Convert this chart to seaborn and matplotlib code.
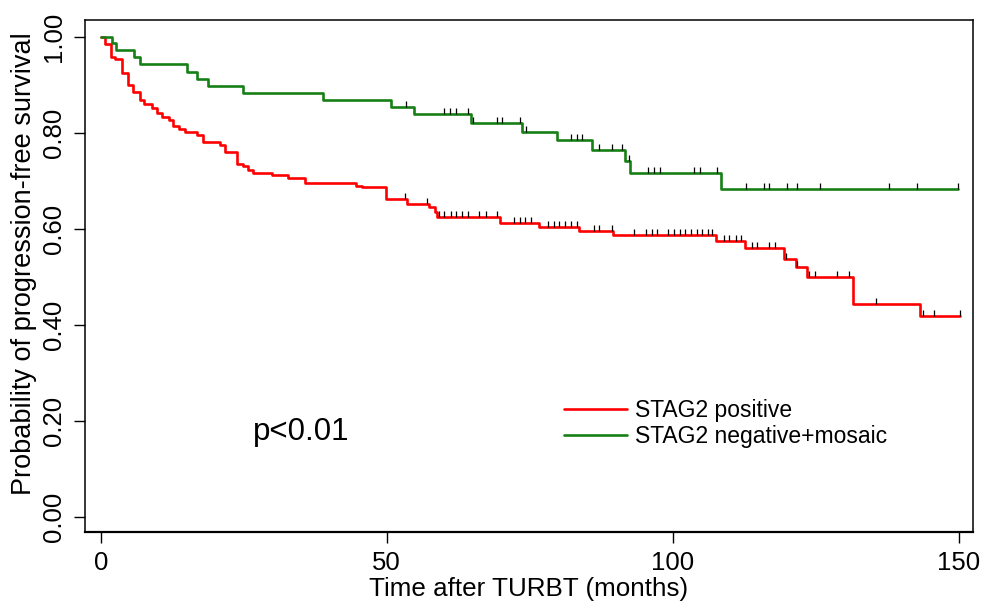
import numpy as np
import pandas as pd
import matplotlib
matplotlib.use('Agg')
import matplotlib.pyplot as plt
import seaborn as sns

# Kaplan-Meier steps (months, survival level after each step)
red_times = [0, 0.75, 1.75, 2.5, 3.8, 4.8, 5.6, 6.9, 7.6, 8.9, 9.8, 10.7, 12.0, 12.7, 13.7,
             14.7, 16.8, 17.8, 20.9, 21.7, 23.8, 24.9, 25.8, 26.7, 29.9, 32.8, 35.8, 44.7, 45.6,
             49.8, 53.6, 57.4, 58.4, 58.8, 69.8, 76.7, 83.7, 89.6, 107.5, 112.6, 119.4, 121.5,
             123.5, 131.5, 143.2]
red_surv = [1.0, 0.985, 0.958, 0.953, 0.925, 0.900, 0.886, 0.868, 0.861, 0.851, 0.842, 0.834,
            0.827, 0.814, 0.809, 0.802, 0.795, 0.782, 0.775, 0.761, 0.735, 0.732, 0.723, 0.716,
            0.713, 0.707, 0.695, 0.690, 0.687, 0.662, 0.653, 0.646, 0.636, 0.625, 0.612, 0.605,
            0.596, 0.587, 0.574, 0.560, 0.538, 0.521, 0.500, 0.444, 0.418]
red_end = 150.3
red_censor = [53.2, 57.1, 59.1, 60.1, 61.2, 62.2, 63.2, 64.2, 66.2, 67.3, 69.2, 72.3, 73.3,
              74.2, 75.2, 78.2, 79.2, 80.1, 81.1, 82.2, 83.2, 86.2, 87.1, 89.3, 93.2, 95.3,
              96.3, 97.3, 99.2, 100.2, 101.2, 102.1, 103.2, 104.2, 105.1, 106.1, 106.9, 108.9,
              109.9, 111.0, 111.9, 113.8, 114.8, 116.9, 117.8, 119.8, 121.8, 123.8, 124.8,
              128.8, 130.8, 135.5, 143.7, 145.7, 150.3]

green_times = [0, 1.9, 2.7, 5.8, 6.8, 15.0, 16.8, 18.8, 24.9, 38.8, 50.8, 54.7, 64.8, 73.7,
               79.8, 85.9, 91.6, 92.6, 108.5]
green_surv = [1.0, 0.988, 0.972, 0.958, 0.943, 0.927, 0.912, 0.898, 0.883, 0.868, 0.853,
              0.839, 0.821, 0.802, 0.785, 0.764, 0.741, 0.716, 0.684]
green_end = 149.8
green_censor = [53.3, 60.1, 61.1, 62.2, 64.2, 65.1, 69.2, 70.2, 73.3, 74.4, 82.2, 83.2, 84.2,
                87.2, 89.3, 91.2, 92.3, 95.7, 96.7, 97.7, 103.8, 104.7, 107.7, 112.9, 115.9,
                116.9, 119.9, 121.8, 125.8, 137.8, 142.7, 149.8]

groups = ['STAG2 positive', 'STAG2 negative+mosaic']
colors = ['#ff0000', '#168016']
x_ticks = [0, 50, 100, 150]
y_ticks = [0.0, 0.2, 0.4, 0.6, 0.8, 1.0]

sns.set_style('white')
plt.rcParams['font.family'] = ['Liberation Sans', 'DejaVu Sans']

fig = plt.figure(figsize=(9.85, 6.08), dpi=100)
ax = fig.add_axes([0.0863, 0.125, 0.9015, 0.842])

# censor tick: short vertical stroke above the curve
tick_marker = [(0, 0), (0, 1)]

series = [(red_times, red_surv, red_end, red_censor),
          (green_times, green_surv, green_end, green_censor)]
for (t, s, end, cens), name, col in zip(series, groups, colors):
    df = pd.DataFrame({'time': t + [end], 'surv': s + [s[-1]]})
    sns.lineplot(data=df, x='time', y='surv', drawstyle='steps-post', estimator=None,
                 sort=False, color=col, linewidth=1.9, label=name, ax=ax, zorder=2)
    idx = np.searchsorted(np.array(t), np.array(cens), side='right') - 1
    ax.plot(cens, np.array(s)[idx], linestyle='none', marker=tick_marker,
            markersize=9, markeredgecolor='black', markeredgewidth=0.9, zorder=3)

ax.set_xlim(-2.75, 152.5)
ax.set_ylim(-0.031, 1.035)
ax.set_xticks(x_ticks)
ax.set_yticks(y_ticks)
ax.set_yticklabels([f'{v:.2f}' for v in y_ticks], rotation=90, va='center')
ax.tick_params(axis='both', direction='out', length=8, width=1, color='black',
               labelsize=18.5, labelcolor='black', bottom=True, left=True)
ax.tick_params(axis='x', pad=6)
ax.tick_params(axis='y', pad=6)

ax.set_xlabel('Time after TURBT (months)', fontsize=18.7, color='black', labelpad=1)
ax.set_ylabel('Probability of progression-free survival', fontsize=19.5, color='black')
ax.yaxis.set_label_coords(-0.054, 0.524)

for side in ['top', 'right', 'left', 'bottom']:
    ax.spines[side].set_color('black')
    ax.spines[side].set_linewidth(1.1)
ax.spines['bottom'].set_linewidth(1.6)

ax.text(26.6, 0.177, 'p<0.01', fontsize=22.5, color='black', va='center')

leg = ax.legend(loc='upper left', bbox_to_anchor=(0.516, 0.30), frameon=False,
                fontsize=16.5, handlelength=2.75, handletextpad=0.35, labelspacing=0.15)
for txt in leg.get_texts():
    txt.set_color('black')

plt.savefig('out.png', dpi=100)
